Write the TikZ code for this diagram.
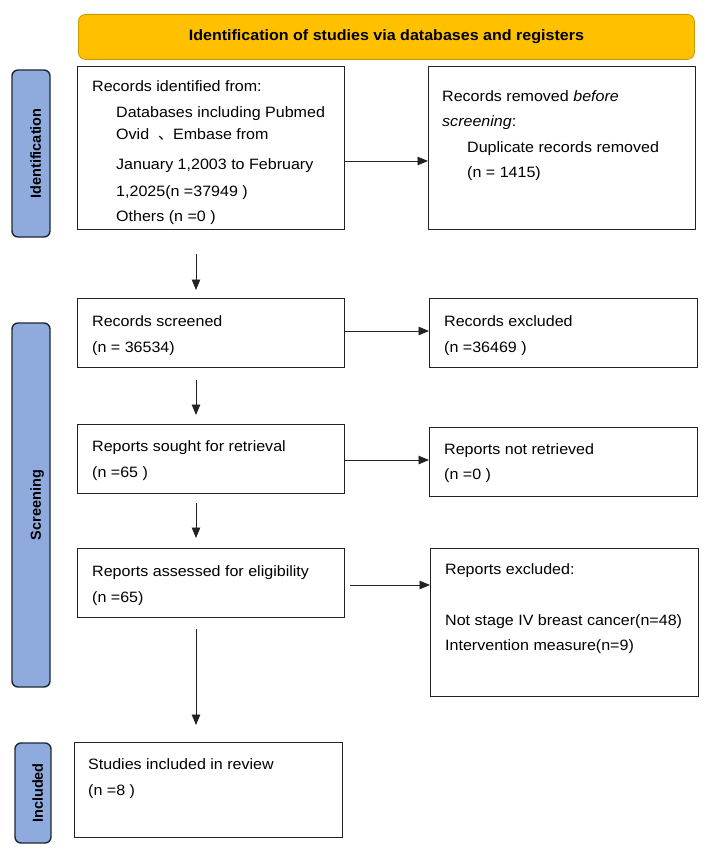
\documentclass[tikz,border=0pt]{standalone}
\usepackage{fontspec}
\setmainfont{Liberation Sans}[FakeStretch=1.07]
\newfontfamily\labfont{Liberation Sans}
\newfontfamily\cjk{Noto Sans CJK SC}
\usetikzlibrary{arrows.meta,calc}
\definecolor{hdrfill}{HTML}{FFC000}
\definecolor{hdrdraw}{HTML}{C99A06}
\definecolor{labfill}{HTML}{8FAADC}
\definecolor{labdraw}{HTML}{1F2733}
\definecolor{ink}{HTML}{222222}
\begin{document}
\begin{tikzpicture}[x=1pt,y=-1pt,
  box/.style={draw=ink, line width=1.4pt, fill=white, inner sep=0pt, anchor=north west},
  hdrbox/.style={draw=hdrdraw, line width=0.8pt, fill=hdrfill, rounded corners=7pt, inner sep=0pt, anchor=north west,
     font=\fontsize{15}{17}\selectfont\bfseries},
  labbox/.style={draw=labdraw, line width=1.4pt, fill=labfill, rounded corners=6pt, inner sep=0pt, rotate=90},
  labtxt/.style={inner sep=0pt, rotate=90, text height=10.5pt, text depth=0pt,
     font=\labfont\bfseries\fontsize{14.5}{16}\selectfont},
  txt/.style={anchor=base west, inner sep=0pt, font=\fontsize{15}{17}\selectfont},
  arr/.style={draw=ink, line width=0.9pt, -{Triangle[length=10.5pt,width=8.5pt]}}]
\useasboundingbox (0,0) rectangle (708,861);

% header
\node[hdrbox, minimum width=616pt, minimum height=45pt] (hdr) at (78,14) {Identification of studies via databases and registers};

% side labels
\node[labbox, minimum width=167pt, minimum height=38pt] (L1) at (31,153.5) {};
\node[labtxt] (L1t) at ($(L1.center)+(4.5,0)$) {Identification};
\node[labbox, minimum width=364pt, minimum height=38pt] (L2) at (31,505) {};
\node[labtxt] (L2t) at ($(L2.center)+(4.5,0)$) {Screening};
\node[labbox, minimum width=100pt, minimum height=36pt] (L3) at (33,793) {};
\node[labtxt] (L3t) at ($(L3.center)+(4.5,0)$) {Included};

% boxes
\node[box, minimum width=267pt, minimum height=163pt] (A) at (77,66) {};
\node[box, minimum width=267pt, minimum height=163pt] (B) at (428,66) {};
\node[box, minimum width=267pt, minimum height=69pt] (C) at (77,298) {};
\node[box, minimum width=268pt, minimum height=69pt] (D) at (429,298) {};
\node[box, minimum width=267pt, minimum height=69pt] (E) at (77,424) {};
\node[box, minimum width=268pt, minimum height=69pt] (F) at (429,427) {};
\node[box, minimum width=267pt, minimum height=69pt] (G) at (77,548) {};
\node[box, minimum width=268pt, minimum height=148pt] (H) at (430,548) {};
\node[box, minimum width=268pt, minimum height=95pt] (I) at (74,742) {};

% texts
\node[txt] (A1) at (92,92) {Records identified from:};
\node[txt] (A2) at (116,118) {Databases including Pubmed};
\node[txt] (A3) at (116,140) {Ovid \ {\cjk 、}Embase from};
\node[txt] (A4) at (116,169) {January 1,2003 to February};
\node[txt] (A5) at (116,196) {1,2025(n =37949 )};
\node[txt] (A6) at (116,221) {Others (n =0 )};

\node[txt] (B1) at (442,102) {Records removed \textit{before}};
\node[txt] (B2) at (442,127) {\textit{screening}:};
\node[txt] (B3) at (467,153) {Duplicate records removed};
\node[txt] (B4) at (467,178) {(n = 1415)};

\node[txt] (C1) at (92,326) {Records screened};
\node[txt] (C2) at (92,352) {(n = 36534)};
\node[txt] (D1) at (444,326) {Records excluded};
\node[txt] (D2) at (444,352) {(n =36469 )};

\node[txt] (E1) at (92,451) {Reports sought for retrieval};
\node[txt] (E2) at (92,477) {(n =65 )};
\node[txt] (F1) at (444,454) {Reports not retrieved};
\node[txt] (F2) at (444,479) {(n =0 )};

\node[txt] (G1) at (92,576) {Reports assessed for eligibility};
\node[txt] (G2) at (92,602) {(n =65)};
\node[txt] (H1) at (445,574) {Reports excluded:};
\node[txt] (H2) at (445,625.5) {Not stage IV breast cancer(n=48)};
\node[txt] (H3) at (445,650.5) {Intervention measure(n=9)};

\node[txt] (I1) at (88,769) {Studies included in review};
\node[txt] (I2) at (88,795) {(n =8 )};

% horizontal arrows
\draw[arr] (A.east |- 0,161) -- (B.west |- 0,161);
\draw[arr] (C.east |- 0,331) -- (D.west |- 0,331);
\draw[arr] (E.east |- 0,460) -- (F.west |- 0,460);
\draw[arr] ($(G.east |- 0,585)+(5,0)$) -- (H.west |- 0,585);

% vertical arrows
\draw[arr] ($(A.south west)+(119,24)$) -- ($(C.north west)+(119,-8)$);
\draw[arr] ($(C.south west)+(119,12)$) -- ($(E.north west)+(119,-9)$);
\draw[arr] ($(E.south west)+(119,9)$) -- ($(G.north west)+(119,-10)$);
\draw[arr] ($(G.south west)+(119,11)$) -- ($(I.north west)+(122,-17)$);
\end{tikzpicture}
\end{document}
